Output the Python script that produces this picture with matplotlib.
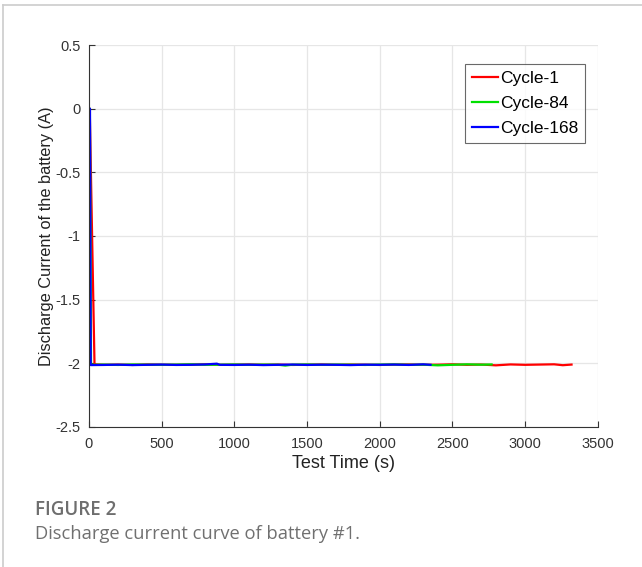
import matplotlib.pyplot as plt
from matplotlib.lines import Line2D

plt.rcParams['font.family'] = ['Liberation Sans', 'DejaVu Sans']

# Discharge current (A) vs test time (s) for three cycles of battery #1
t_cycle1 = [0, 5, 38, 100, 200, 300, 400, 500, 600, 700, 800, 900, 1000,
            1100, 1200, 1300, 1400, 1500, 1600, 1700, 1800, 1900, 2000,
            2100, 2200, 2300, 2400, 2500, 2600, 2700, 2800, 2900, 3000,
            3100, 3200, 3260, 3320]
i_cycle1 = [0.0, 0.0, -2.008, -2.012, -2.010, -2.013, -2.009, -2.011, -2.012,
            -2.010, -2.008, -2.012, -2.011, -2.009, -2.012, -2.010, -2.013,
            -2.011, -2.009, -2.012, -2.010, -2.011, -2.013, -2.010, -2.009,
            -2.012, -2.011, -2.008, -2.012, -2.010, -2.016, -2.009, -2.012,
            -2.010, -2.008, -2.015, -2.010]

t_cycle84 = [0, 6, 14, 100, 200, 300, 400, 500, 600, 700, 800, 900, 1000,
             1100, 1200, 1300, 1350, 1400, 1500, 1600, 1700, 1800, 1900,
             2000, 2100, 2200, 2300, 2400, 2500, 2600, 2700, 2770]
i_cycle84 = [0.0, 0.0, -2.012, -2.010, -2.013, -2.009, -2.011, -2.012,
             -2.010, -2.008, -2.012, -2.011, -2.009, -2.012, -2.010, -2.011,
             -2.018, -2.011, -2.009, -2.012, -2.010, -2.011, -2.013, -2.010,
             -2.009, -2.012, -2.011, -2.016, -2.012, -2.008, -2.011, -2.009]

t_cycle168 = [0, 7, 12, 100, 200, 300, 400, 500, 600, 700, 800, 880, 900,
              1000, 1100, 1200, 1300, 1400, 1500, 1600, 1700, 1800, 1900,
              2000, 2100, 2200, 2300, 2350]
i_cycle168 = [0.0, 0.0, -2.014, -2.013, -2.011, -2.014, -2.012, -2.010,
              -2.013, -2.012, -2.009, -2.003, -2.012, -2.013, -2.011, -2.014,
              -2.012, -2.010, -2.013, -2.011, -2.012, -2.014, -2.011, -2.012,
              -2.010, -2.013, -2.008, -2.012]

x_ticks = [0, 500, 1000, 1500, 2000, 2500, 3000, 3500]
y_ticks = [-2.5, -2, -1.5, -1, -0.5, 0, 0.5]
y_tick_labels = ['-2.5', '-2', '-1.5', '-1', '-0.5', '0', '0.5']

fig = plt.figure(figsize=(6.42, 5.67), dpi=100)
ax = fig.add_axes([0.1386, 0.247, 0.7924, 0.6736])

ax.plot(t_cycle1, i_cycle1, color='#ff0000', lw=1.6, label='Cycle-1')
ax.plot(t_cycle84, i_cycle84, color='#00e000', lw=1.6, label='Cycle-84')
ax.plot(t_cycle168, i_cycle168, color='#0000ff', lw=1.6, label='Cycle-168')

ax.set_xlim(0, 3500)
ax.set_ylim(-2.5, 0.5)
ax.set_xticks(x_ticks)
ax.set_yticks(y_ticks)
ax.set_yticklabels(y_tick_labels)
ax.grid(True, color='#e6e6e6', lw=0.9)
ax.set_axisbelow(True)
for side in ['top', 'right']:
    ax.spines[side].set_visible(False)
for side in ['left', 'bottom']:
    ax.spines[side].set_color('#333333')
    ax.spines[side].set_linewidth(0.8)
ax.tick_params(direction='in', length=4, width=0.8, colors='#333333',
               labelsize=10.5, labelcolor='#333333')
ax.tick_params(axis='x', pad=7)
ax.tick_params(axis='y', pad=6)

ax.set_xlabel('Test Time (s)', fontsize=13, color='#222222', labelpad=3)
ax.set_ylabel('Discharge Current of the battery (A)', fontsize=11.8,
              color='#222222', labelpad=1)

leg = ax.legend(loc='upper right', bbox_to_anchor=(0.975, 0.95), fontsize=12.5,
                frameon=True, fancybox=False, handlelength=1.5,
                handletextpad=0.1, borderpad=0.4, labelspacing=0.55,
                borderaxespad=0)
leg.get_frame().set_edgecolor('#444444')
leg.get_frame().set_linewidth(0.8)

# card border and caption
fig.add_artist(Line2D([0.005, 0.005], [0.0, 0.991], color='#cccccc', lw=1.2))
fig.add_artist(Line2D([0.005, 1.0], [0.991, 0.991], color='#cccccc', lw=1.2))
fig.text(0.055, 0.091, 'FIGURE 2', fontsize=13.5, fontweight='semibold',
         color='#6e6e6e', family=['Open Sans', 'DejaVu Sans'])
fig.text(0.055, 0.05, 'Discharge current curve of battery #1.', fontsize=13.2,
         color='#707070', family=['Open Sans', 'DejaVu Sans'])

fig.savefig('out.png', dpi=100)
